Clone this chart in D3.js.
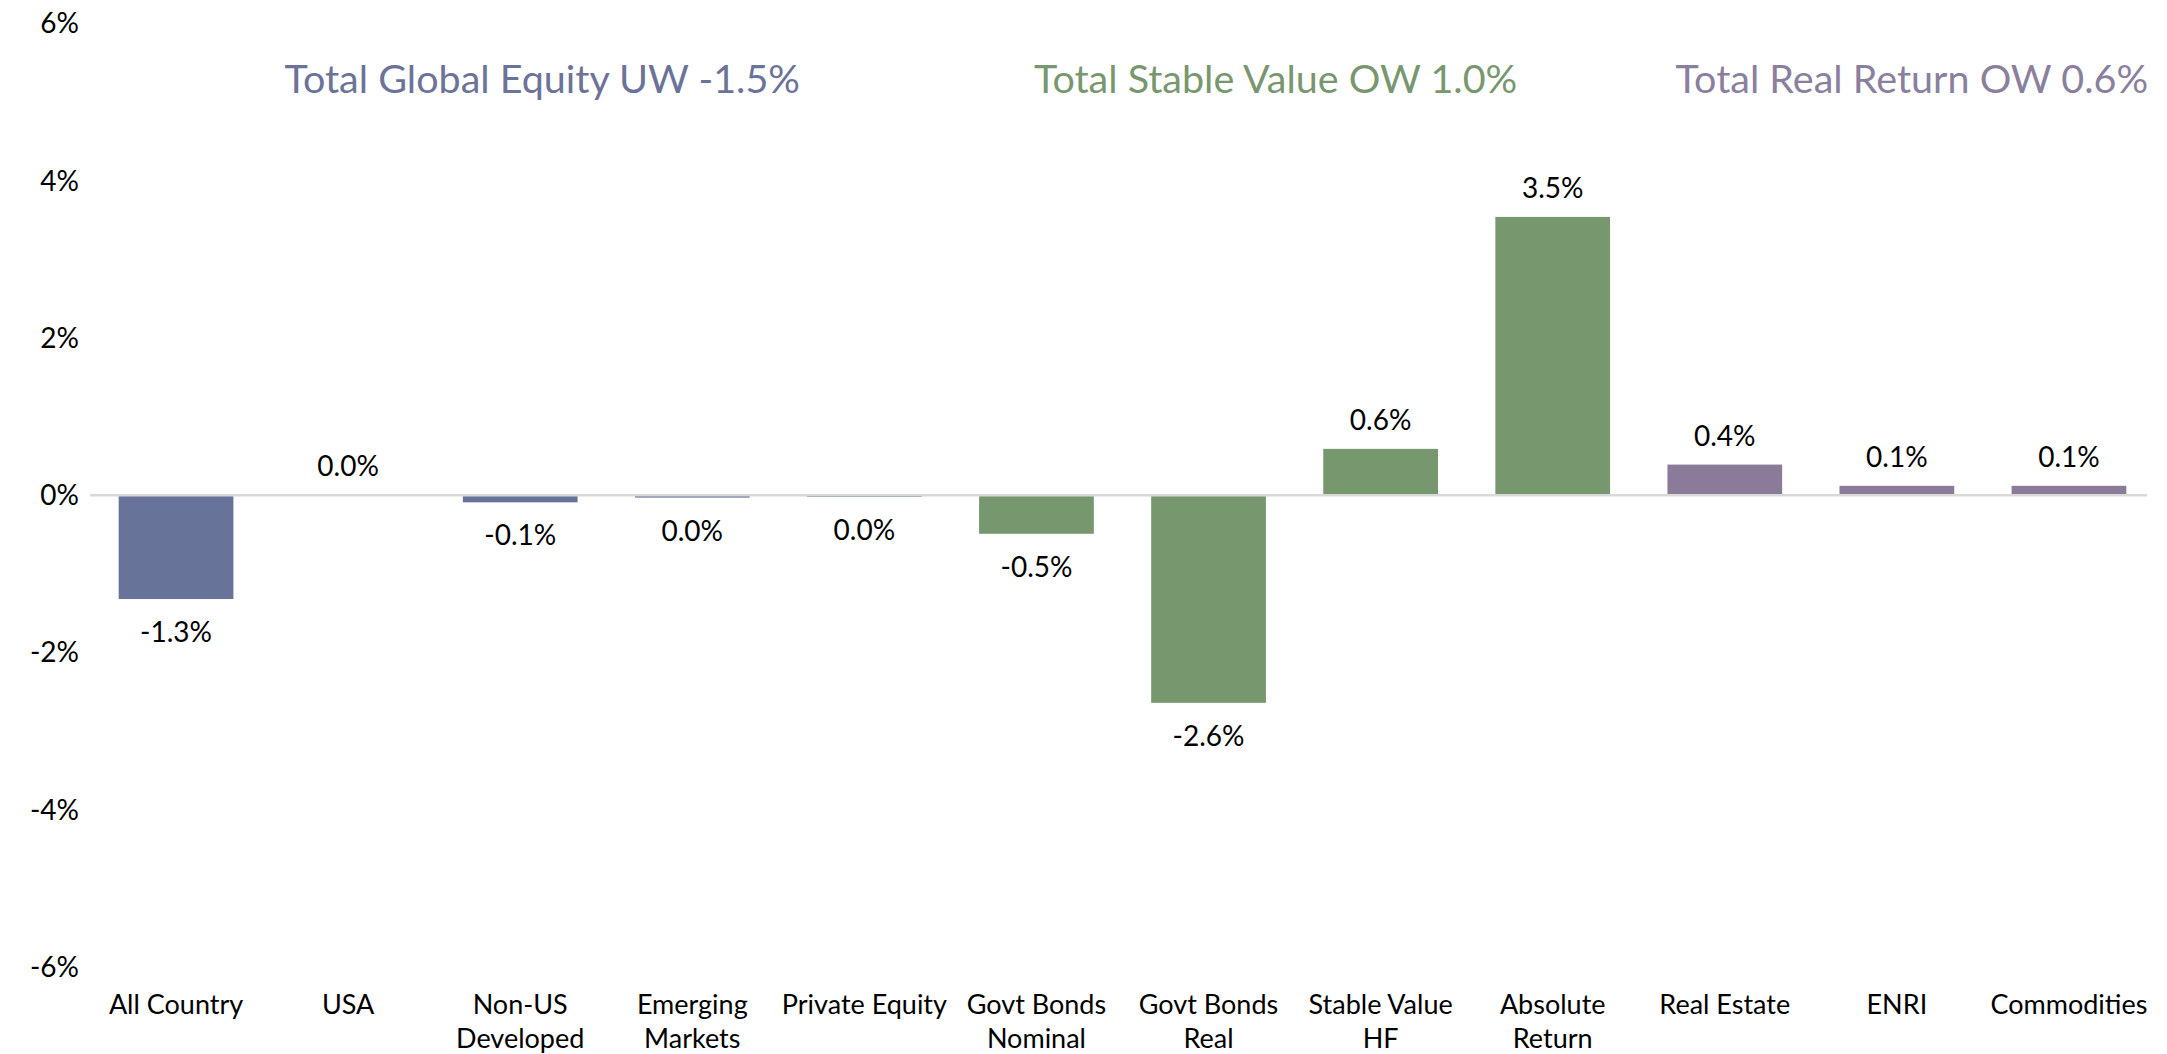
<!DOCTYPE html>
<html>
<head>
<meta charset="utf-8">
<script src="https://cdn.jsdelivr.net/npm/d3@7"></script>
<style>
    body { margin: 0; background: #fff; }
    text { font-family: Lato, 'Open Sans', sans-serif; }
</style>
</head>
<body>
<svg id="chart" width="2167" height="1054"></svg>
<script>

    var categories = ['All Country', 'USA', 'Non-US\nDeveloped', 'Emerging\nMarkets', 'Private Equity',
        'Govt Bonds\nNominal', 'Govt Bonds\nReal', 'Stable Value\nHF', 'Absolute\nReturn',
        'Real Estate', 'ENRI', 'Commodities'];

    var values = [-1.32, 0.0, -0.09, -0.03, -0.02, -0.49, -2.64, 0.59, 3.54, 0.39, 0.12, 0.12];

    var groups = ['equity', 'equity', 'equity', 'equity', 'equity',
        'stable', 'stable', 'stable', 'stable',
        'real', 'real', 'real'];

    var groupTitles = ['Total Global Equity UW -1.5%', 'Total Stable Value OW 1.0%', 'Total Real Return OW 0.6%'];
    var groupKeys = ['equity', 'stable', 'real'];

    var yTicks = [-6, -4, -2, 0, 2, 4, 6];

    var barColors = { equity: '#68739a', stable: '#77976f', real: '#8a7b98' };
    var titleColors = { equity: '#6b7399', stable: '#78976f', real: '#8b7f9e' };

    var svg = d3.select('#chart'),
        width = +svg.attr('width'),
        height = +svg.attr('height');

    var x = d3.scaleBand()
        .domain(d3.range(categories.length))
        .range([90, 2155])
        .paddingInner(1 / 3)
        .paddingOuter(1 / 6);

    var y = d3.scaleLinear()
        .domain([-6, 6])
        .range([967, 23.5]);

    var fmt = d3.formatLocale({ decimal: '.', thousands: ',', grouping: [3], currency: ['', ''], minus: '-' })
        .format('.1f');

    // y tick labels (no axis line)
    svg.append('g')
        .selectAll('text')
        .data(yTicks)
        .enter().append('text')
        .attr('x', 79)
        .attr('y', function (d) { return y(d); })
        .attr('dy', '0.35em')
        .attr('text-anchor', 'end')
        .attr('font-size', 28)
        .attr('fill', '#000')
        .text(function (d) { return d + '%'; });

    // bars
    svg.append('g')
        .selectAll('rect')
        .data(values)
        .enter().append('rect')
        .attr('x', function (d, i) { return x(i); })
        .attr('width', x.bandwidth())
        .attr('y', function (d) { return y(Math.max(0, d)); })
        .attr('height', function (d) { return Math.abs(y(d) - y(0)); })
        .attr('fill', function (d, i) { return barColors[groups[i]]; });

    // zero line
    svg.append('line')
        .attr('x1', 90)
        .attr('x2', 2147)
        .attr('y1', y(0))
        .attr('y2', y(0))
        .attr('stroke', '#d9d9d9')
        .attr('stroke-width', 2.5);

    // data labels
    svg.append('g')
        .selectAll('text')
        .data(values)
        .enter().append('text')
        .attr('x', function (d, i) { return x(i) + x.bandwidth() / 2; })
        .attr('y', function (d) { return d >= 0 ? y(d) - 19 : y(d) + 43; })
        .attr('text-anchor', 'middle')
        .attr('font-size', 28)
        .attr('fill', '#000')
        .text(function (d) { return fmt(d) + '%'; });

    // category labels
    var xl = svg.append('g')
        .selectAll('text')
        .data(categories)
        .enter().append('text')
        .attr('x', function (d, i) { return x(i) + x.bandwidth() / 2; })
        .attr('y', 1014)
        .attr('text-anchor', 'middle')
        .attr('font-size', 27)
        .attr('fill', '#000');

    xl.selectAll('tspan')
        .data(function (d) { return d.split('\n'); })
        .enter().append('tspan')
        .attr('x', function () { return this.parentNode.getAttribute('x'); })
        .attr('dy', function (d, i) { return i ? 34 : 0; })
        .text(function (d) { return d; });

    // group titles, roughly centred over their bars
    var titleShift = [22, -19, 15];

    svg.append('g')
        .selectAll('text')
        .data(groupKeys)
        .enter().append('text')
        .attr('x', function (k, j) {
            var idx = d3.range(groups.length).filter(function (i) { return groups[i] === k; });
            return (x(idx[0]) + x(idx[idx.length - 1]) + x.bandwidth()) / 2 + titleShift[j];
        })
        .attr('y', 93)
        .attr('text-anchor', 'middle')
        .attr('font-size', 39.5)
        .attr('fill', function (k) { return titleColors[k]; })
        .text(function (k, i) { return groupTitles[i]; });

</script>
</body>
</html>
